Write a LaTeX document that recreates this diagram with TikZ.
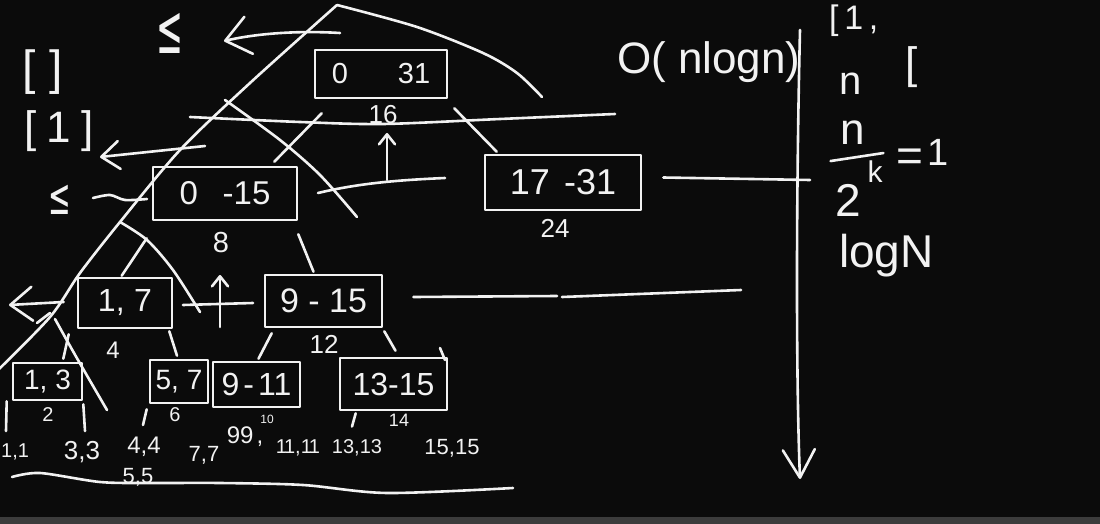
\documentclass[tikz,border=0pt]{standalone}
\usepackage{fontspec}
\setmainfont{Liberation Sans}
\newfontfamily\symfont{DejaVu Sans}
\usetikzlibrary{arrows.meta, calc}
\definecolor{board}{HTML}{0B0B0B}
\definecolor{chalk}{HTML}{F2F2F2}
\definecolor{playerbar}{HTML}{3C3C3C}

\begin{document}
\begin{tikzpicture}[
    x=1pt, y=-1pt,
    chalkline/.style={draw=chalk, line width=2.6pt, line cap=round, line join=round},
    segbox/.style={rectangle, draw=chalk, line width=2.6pt, text=chalk,
                   inner sep=0pt, line join=round},
    ink/.style={text=chalk, inner sep=0pt},
    fs/.style={font=\fontsize{#1}{#1}\selectfont},
    barb/.style 2 args={-{Straight Barb[length=#1, width=#2, round]}},
]

% board and player strip
\fill[board] (0,0) rectangle (1100,517);
\fill[playerbar] (0,517) rectangle (1100,524);
\useasboundingbox (0,0) rectangle (1100,524);

% segment tree boxes
\node[segbox, minimum width=132pt, minimum height=48pt, fs=29] (root) at (381,74) {0\hspace{50pt}31};
\node[segbox, minimum width=144pt, minimum height=53pt, fs=33] (n015) at (225,193.5) {0\hspace{0.75em}-15};
\node[segbox, minimum width=156pt, minimum height=55pt, fs=36] (n1731) at (563,182.5) {17\hspace{0.4em}-31};
\node[segbox, minimum width=94pt, minimum height=50pt, fs=32] (n17) at (125,303) {1,\hspace{0.3em}7};
\node[segbox, minimum width=117pt, minimum height=52pt, fs=34] (n915) at (323.5,301) {9 - 15};
\node[segbox, minimum width=69pt, minimum height=37pt, fs=28] (n13) at (47.5,381.5) {1, 3};
\node[segbox, minimum width=58pt, minimum height=43pt, fs=28] (n57) at (179,381.5) {5, 7};
\node[segbox, minimum width=87pt, minimum height=45pt, fs=32] (n911) at (256.5,384.5) {9\hspace{4pt}-\hspace{4pt}11};
\node[segbox, minimum width=107pt, minimum height=52pt, fs=32] (n1315) at (393.5,384) {13-15};
\draw[chalkline] (440,348) -- (445,360);

% midpoints under the boxes
\node[ink, fs=26] (mid16) at (383,115) {16};
\node[ink, fs=29] (mid8) at (221,243) {8};
\node[ink, fs=26] (mid24) at (555,228) {24};
\node[ink, fs=24] (mid4) at (113,350) {4};
\node[ink, fs=26] (mid12) at (324,344) {12};
\node[ink, fs=20] (mid2) at (48,415) {2};
\node[ink, fs=20] (mid6) at (175,415) {6};
\node[ink, fs=12] (mid10) at (267,419) {10};
\node[ink, fs=18] (mid14) at (399,420) {14};

% leaves
\node[ink, fs=20, anchor=west] (leaf11) at (1,452) {1,1};
\foreach \nm/\px/\py/\sz/\txt in {leaf33/82/452/26/{3,3}, leaf44/144/447/24/{4,4},
    leaf55/138/477/22/{5,5}, leaf77/204/455/22/{7,7}, leaf99/245/437/24/{99\hspace{3pt},},
    leaf1111/298/448/20/{1\kern-3pt1,1\kern-3pt1}, leaf1313/357/448/20/{13,13},
    leaf1515/452/448/22/{15,15}}
    \node[ink, fs=\sz] (\nm) at (\px,\py) {\txt};

% tree edges
\draw[chalkline] ($(root.south west)+(8,14)$) -- ($(n015.north east)+(-24,-4)$);
\draw[chalkline] ($(root.south east)+(6,9)$) -- ($(n1731.north west)+(13,-2)$);
\draw[chalkline] ($(n015.south west)+(-5,17)$) -- ($(n17.north west)+(45,-1)$);
\draw[chalkline] ($(n015.south east)+(0,13)$) -- ($(n915.north)+(-10,-2)$);
\draw[chalkline] ($(n17.south west)+(-8,5)$) -- ($(n13.north east)+(-20,-3)$);
\draw[chalkline] ($(n17.south east)+(-4,2)$) -- ($(n57.north)+(-2,-3)$);
\draw[chalkline] ($(n915.south west)+(8,5)$) -- ($(n911.north)+(2,-2)$);
\draw[chalkline] ($(n915.south east)+(1,3)$) -- ($(n1315.north)+(2,-6)$);
\draw[chalkline] ($(n13.south west)+(-5,0)$) -- (6,431);
\draw[chalkline] ($(n13.south east)+(0,3)$) -- ($(leaf33.north)+(3,-10)$);
\draw[chalkline] ($(n57.south west)+(-2,5)$) -- ($(leaf44.north)+(-1,-12)$);
\draw[chalkline] ($(n1315.south west)+(17,2)$) -- ($(leaf1313.north)+(-5,-13)$);

% recursion carets
\draw[chalkline] plot[smooth] coordinates {(337,5) (250,83) (180,150) (120,222) (80,273) (50,317) (-4,372)};
\draw[chalkline] plot[smooth] coordinates {(337,5) (417,27) (483,53) (517,73) (542,97)};
\draw[chalkline] plot[smooth] coordinates {(225,100) (280,140) (320,175) (357,217)};
\draw[chalkline] plot[smooth] coordinates {(120,222) (147,240) (173,270) (200,312)};
\draw[chalkline] (55,319) .. controls (75,355) .. (107,410);
\draw[chalkline] (37,323) -- (50,313);

% level lines
\draw[chalkline] plot[smooth] coordinates {(190,117) (300,122) (383,124) (500,119) (615,114)};
\draw[chalkline] (318,193) .. controls (360,183) and (400,180) .. (445,178);
\draw[chalkline] ($(n1731.east)+(21,-5)$) -- (810,180);
\draw[chalkline] (183,305) -- (253,303);
\draw[chalkline] ($(n915.east)+(30,-4)$) -- (557,296);
\draw[chalkline] (562,297) -- (741,290);
\draw[chalkline] plot[smooth] coordinates {(12,477) (40,473) (100,482) (150,483) (220,483) (303,485) (387,493) (513,488)};

% arrows
\draw[chalkline, barb={24pt}{38pt}] (340,33) .. controls (290,30) and (250,35) .. (224,41);
\draw[chalkline, barb={18pt}{28pt}] (205,146) -- (100,157);
\draw[chalkline, barb={22pt}{34pt}] ($(n17.west)+(-13,-1)$) -- (9,305);
\draw[chalkline, barb={10pt}{16pt}] (387,180) -- (387,133);
\draw[chalkline, barb={10pt}{16pt}] (220,327) -- (220,275);
\draw[chalkline, barb={28pt}{32pt}] (800,30) .. controls (796,200) and (796,380) .. (800,479);

% left margin notes
\node[ink, fs=48] (brk0) at (43,72) {[\hspace{14pt}]};
\node[ink, fs=44] (brk1) at (59,131) {[\hspace{10pt}1\hspace{10pt}]};
\node[ink, fs=46] (le1) at (170,33) {\symfont\scalebox{0.7}[1.5]{≤}};
\node[ink, fs=36] (le2) at (60,200) {\symfont\scalebox{0.75}[1.4]{≤}};
\draw[chalkline] plot[smooth] coordinates {(93,198) (110,195) (125,200) (147,199)};

% complexity notes
\node[ink, fs=44, anchor=base west] (cost) at (617,74) {O( nlogn)};
\node[ink, fs=34, anchor=base west] (top1) at (829,30) {[\,1\,,};
\node[ink, fs=40, anchor=base] (nn) at (851,95) {n};
\node[ink, fs=44] (brk2) at (912,67) {[};
\node[ink, fs=44] (fnum) at (853,133) {n};
\draw[chalkline] ($(fnum.south west)+(-10,16)$) -- ($(fnum.south east)+(18,8)$);
\node[ink, fs=46] (fden) at (848,200) {2};
\node[ink, fs=30] (fexp) at (875,172) {k};
\node[ink, fs=46] (feq) at (910,160) {=};
\node[ink, fs=38] (fone) at (938,152) {1};
\node[ink, fs=46, anchor=base west] (logn) at (839,267) {logN};

\end{tikzpicture}
\end{document}
